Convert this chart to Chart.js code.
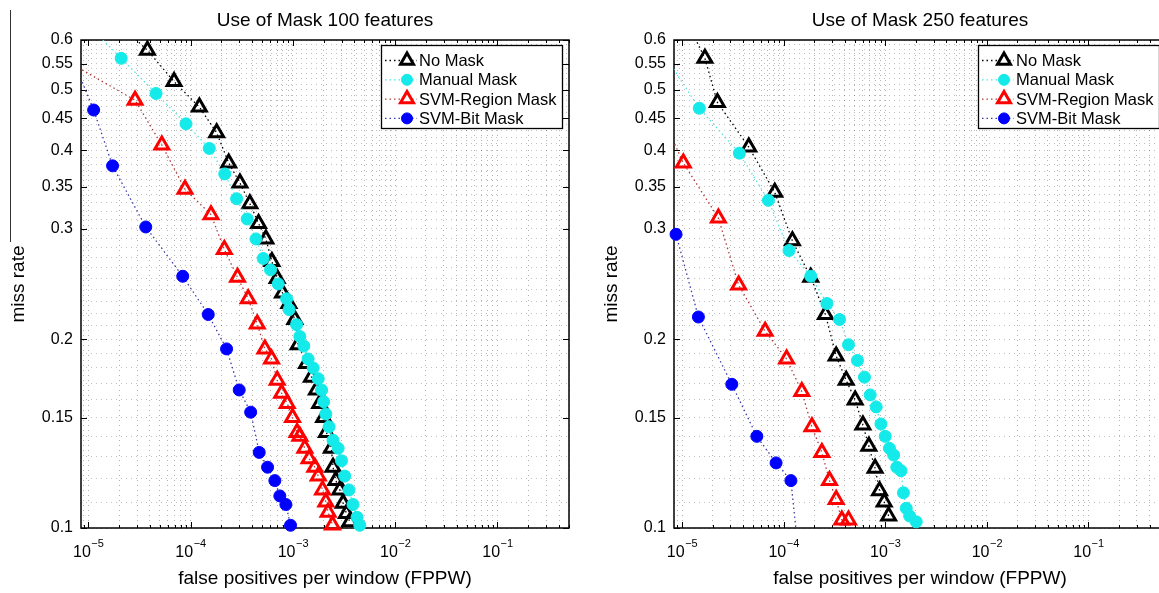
<!DOCTYPE html>
<html>
<head>
<meta charset="utf-8">
<script src="https://cdn.jsdelivr.net/npm/chart.js@4.4.1/dist/chart.umd.min.js"></script>
<style>
  html, body { margin: 0; padding: 0; background: #fff; overflow: hidden; }
  #wrap { position: relative; width: 1159px; height: 593px; overflow: hidden; }
  .pane { position: absolute; top: 0; height: 593px; }
</style>
</head>
<body>
<div id="wrap">
  <div class="pane" style="left:0;width:580px"><canvas id="c100"></canvas></div>
  <div class="pane" style="left:593px;width:590px"><canvas id="c250"></canvas></div>
</div>
<script>
// ---- values: fppw (x) and miss rate (y) ----
// a few points sit just outside the axes; only their line segment shows
const seriesNames = ["No Mask", "Manual Mask", "SVM-Region Mask", "SVM-Bit Mask"];

const noMask100Fppw = [2.32e-5, 3.79e-5, 6.9e-5, 1.22e-4, 1.80e-4, 2.36e-4, 3.04e-4, 3.80e-4, 4.62e-4, 5.45e-4, 6.24e-4, 7.03e-4, 7.93e-4, 9.14e-4, 1.046e-3, 1.127e-3, 1.362e-3, 1.52e-3, 1.70e-3, 1.83e-3, 2.00e-3, 2.13e-3, 2.38e-3, 2.47e-3, 2.63e-3, 2.88e-3, 3.10e-3, 3.34e-3, 3.60e-3];
const noMask100Miss = [0.622, 0.578, 0.515, 0.469, 0.427, 0.382, 0.355, 0.329, 0.306, 0.289, 0.266, 0.250, 0.237, 0.228, 0.215, 0.196, 0.183, 0.174, 0.166, 0.158, 0.150, 0.142, 0.134, 0.125, 0.119, 0.115, 0.1095, 0.1055, 0.1023];
const manual100Fppw = [1.12e-5, 2.10e-5, 4.60e-5, 9.03e-5, 1.525e-4, 2.16e-4, 2.82e-4, 3.58e-4, 4.36e-4, 5.13e-4, 6.05e-4, 7.19e-4, 8.69e-4, 9.20e-4, 1.087e-3, 1.17e-3, 1.28e-3, 1.41e-3, 1.58e-3, 1.77e-3, 1.91e-3, 2.00e-3, 2.10e-3, 2.26e-3, 2.47e-3, 2.77e-3, 2.99e-3, 3.21e-3, 3.54e-3, 3.87e-3, 4.24e-3, 4.51e-3];
const manual100Miss = [0.622, 0.561, 0.493, 0.441, 0.403, 0.367, 0.335, 0.311, 0.289, 0.269, 0.258, 0.245, 0.232, 0.223, 0.211, 0.202, 0.195, 0.186, 0.180, 0.173, 0.166, 0.159, 0.152, 0.145, 0.138, 0.134, 0.128, 0.121, 0.115, 0.109, 0.104, 0.101];
const region100Fppw = [6.7e-6, 2.87e-5, 5.24e-5, 8.83e-5, 1.585e-4, 2.14e-4, 2.88e-4, 3.66e-4, 4.49e-4, 5.33e-4, 6.19e-4, 7.03e-4, 7.77e-4, 8.81e-4, 9.93e-4, 1.10e-3, 1.17e-3, 1.31e-3, 1.44e-3, 1.64e-3, 1.77e-3, 1.95e-3, 2.10e-3, 2.21e-3, 2.44e-3];
const region100Miss = [0.551, 0.481, 0.408, 0.347, 0.316, 0.278, 0.251, 0.232, 0.2115, 0.193, 0.186, 0.172, 0.164, 0.158, 0.150, 0.142, 0.140, 0.134, 0.129, 0.125, 0.121, 0.115, 0.110, 0.106, 0.1011];
const bit100Fppw = [6.7e-6, 1.13e-5, 1.73e-5, 3.65e-5, 8.39e-5, 1.49e-4, 2.25e-4, 2.99e-4, 3.87e-4, 4.69e-4, 5.66e-4, 6.67e-4, 7.46e-4, 8.55e-4, 9.49e-4];
const bit100Miss = [0.572, 0.464, 0.378, 0.302, 0.252, 0.219, 0.193, 0.166, 0.153, 0.132, 0.125, 0.119, 0.1125, 0.109, 0.101];

const noMask250Fppw = [1.23e-5, 1.68e-5, 2.23e-5, 4.54e-5, 8.18e-5, 1.22e-4, 1.85e-4, 2.58e-4, 3.29e-4, 4.13e-4, 5.06e-4, 6.03e-4, 6.90e-4, 7.95e-4, 8.79e-4, 9.77e-4, 1.08e-3];
const noMask250Miss = [0.622, 0.561, 0.477, 0.405, 0.343, 0.287, 0.251, 0.219, 0.188, 0.172, 0.160, 0.146, 0.135, 0.1245, 0.1147, 0.110, 0.1045];
const manual250Fppw = [7.8e-6, 1.48e-5, 3.67e-5, 7.08e-5, 1.13e-4, 1.85e-4, 2.67e-4, 3.55e-4, 4.35e-4, 5.33e-4, 6.25e-4, 7.11e-4, 8.15e-4, 9.08e-4, 1.0e-3, 1.10e-3, 1.21e-3, 1.30e-3, 1.43e-3, 1.51e-3, 1.61e-3, 1.74e-3, 2.02e-3];
const manual250Miss = [0.547, 0.467, 0.396, 0.333, 0.277, 0.252, 0.228, 0.215, 0.196, 0.185, 0.174, 0.163, 0.156, 0.1465, 0.140, 0.134, 0.1307, 0.125, 0.1234, 0.1138, 0.1075, 0.1045, 0.1023];
const region250Fppw = [7.8e-6, 1.03e-5, 2.28e-5, 3.61e-5, 6.58e-5, 1.07e-4, 1.51e-4, 1.90e-4, 2.38e-4, 2.83e-4, 3.29e-4, 3.74e-4, 4.35e-4];
const region250Miss = [0.422, 0.382, 0.312, 0.244, 0.206, 0.186, 0.165, 0.145, 0.132, 0.119, 0.111, 0.103, 0.103];
const bit250Fppw = [8.73e-6, 1.45e-5, 3.09e-5, 5.45e-5, 8.43e-5, 1.18e-4, 1.34e-4];
const bit250Miss = [0.294, 0.217, 0.1695, 0.140, 0.127, 0.119, 0.0975];

const yTickValues = [0.1, 0.15, 0.2, 0.3, 0.35, 0.4, 0.45, 0.5, 0.55, 0.6];
const xDecades = [-5, -4, -3, -2, -1];

// ---- style ----
const FONT = "'Liberation Sans', Arial, Helvetica, sans-serif";
const markerColors = ["#000000", "#14eaea", "#ff0000", "#0000ff"];
const lineColors = ["#000000", "#4ee6e6", "#b03a3a", "#3a3aa8"];
const markerStyles = ["triangle", "circle", "triangle", "circle"];
const markerRadius = [8, 6, 8, 6];
const markerBorder = [3, 1, 3, 1];
const markerFill = ["rgba(0,0,0,0)", "#14eaea", "rgba(0,0,0,0)", "#0000ff"];
const Y_MIN = 0.1, Y_MAX = 0.6;

function pts(xs, ys) { return xs.map((x, i) => ({ x: x, y: ys[i] })); }

function xGrid(min, max) {
  const out = [];
  for (let k = -7; k <= 0; k++) {
    for (let m = 1; m <= 9; m++) {
      const v = m * Math.pow(10, k);
      if (v >= min * 0.999 && v <= max * 1.001) out.push(v);
    }
  }
  return out;
}
function yGrid() {
  const out = [];
  for (let i = 10; i <= 60; i++) out.push(i / 100);
  return out;
}
const isDecade = v => Math.abs(Math.log10(v) - Math.round(Math.log10(v))) < 1e-6;

const frame = {
  id: "frame",
  beforeDatasetsDraw(chart, args, o) {
    const { ctx, chartArea: a, scales: { x, y } } = chart;
    ctx.save();
    ctx.strokeStyle = "#000";
    ctx.lineWidth = 1;
    ctx.beginPath();
    xGrid(x.min, x.max).forEach(v => {
      const px = Math.round(x.getPixelForValue(v)) + 0.5;
      const len = isDecade(v) ? 6 : 3;
      ctx.moveTo(px, a.bottom); ctx.lineTo(px, a.bottom - len);
      ctx.moveTo(px, a.top); ctx.lineTo(px, a.top + len);
    });
    yTickValues.forEach(v => {
      const py = Math.round(y.getPixelForValue(v)) + 0.5;
      ctx.moveTo(a.left, py); ctx.lineTo(a.left + 6, py);
      ctx.moveTo(a.right, py); ctx.lineTo(a.right - 6, py);
    });
    ctx.stroke();
    ctx.lineWidth = 1.5;
    ctx.strokeRect(a.left, a.top, a.right - a.left, a.bottom - a.top);
    ctx.restore();
  },
  afterDraw(chart, args, o) {
    const { ctx, chartArea: a, scales: { x } } = chart;
    const cx = (a.left + a.right) / 2;
    ctx.save();
    ctx.fillStyle = "#000";
    ctx.textAlign = "center";
    ctx.textBaseline = "middle";

    ctx.font = "19px " + FONT;
    ctx.fillText(o.title, cx, 21);
    ctx.fillText("false positives per window (FPPW)", cx, 579);
    ctx.save();
    ctx.translate(19, (a.top + a.bottom) / 2);
    ctx.rotate(-Math.PI / 2);
    ctx.fillText("miss rate", 0, 0);
    ctx.restore();

    // decade labels with superscript exponent
    ctx.textAlign = "left";
    ctx.textBaseline = "alphabetic";
    xDecades.forEach(k => {
      const px = x.getPixelForValue(Math.pow(10, k));
      ctx.font = "16px " + FONT;
      const w1 = ctx.measureText("10").width;
      const exp = "\u2212" + Math.abs(k);
      ctx.font = "11px " + FONT;
      const w2 = ctx.measureText(exp).width;
      const left = px - (w1 + w2) / 2;
      ctx.font = "16px " + FONT;
      ctx.fillText("10", left, 557);
      ctx.font = "11px " + FONT;
      ctx.fillText(exp, left + w1 + 0.5, 547);
    });

    // legend box
    const lx = a.right - o.legendRight - 181, ly = a.top + 5;
    ctx.fillStyle = "#fff";
    ctx.fillRect(lx, ly, 181, 83);
    ctx.strokeStyle = "#000";
    ctx.lineWidth = 1.3;
    ctx.strokeRect(lx + 0.5, ly + 0.5, 181, 83);
    ctx.font = "16.5px " + FONT;
    ctx.textBaseline = "middle";
    seriesNames.forEach((name, i) => {
      const cy = ly + 15.5 + i * 19.3;
      ctx.setLineDash([1.5, 3]);
      ctx.lineWidth = 1.3;
      ctx.strokeStyle = lineColors[i];
      ctx.beginPath();
      ctx.moveTo(lx + 4, cy); ctx.lineTo(lx + 36, cy);
      ctx.stroke();
      ctx.setLineDash([]);
      ctx.fillStyle = markerStyles[i] === "triangle" ? "#fff" : markerFill[i];
      ctx.strokeStyle = markerColors[i];
      ctx.lineWidth = markerBorder[i];
      Chart.helpers.drawPoint(ctx, { pointStyle: markerStyles[i], radius: markerRadius[i] - 0.5, borderWidth: markerBorder[i], rotation: 0 }, lx + 26, cy);
      ctx.fillStyle = "#000";
      ctx.fillText(name, lx + 38, cy + 1);
    });

    if (o.stray) {
      ctx.strokeStyle = "#333";
      ctx.lineWidth = 1;
      ctx.beginPath();
      ctx.moveTo(10.5, 10); ctx.lineTo(10.5, 242);
      ctx.stroke();
    }
    ctx.restore();
  }
};

function makeChart(id, series, xMin, xMax, padRight, title, legendRight, stray) {
  const datasets = series.map((s, i) => ({
    label: seriesNames[i],
    data: pts(s[0], s[1]),
    showLine: true,
    borderColor: lineColors[i],
    borderWidth: 1.3,
    borderDash: [1.5, 3],
    pointStyle: markerStyles[i],
    pointRadius: c => {
      const p = c.raw;
      return p && (p.x < xMin || p.y > Y_MAX || p.y < Y_MIN) ? 0 : markerRadius[i];
    },
    pointBorderWidth: markerBorder[i],
    pointBorderColor: markerColors[i],
    pointBackgroundColor: markerFill[i],
    order: 3 - i,
    clip: s[2] || { left: 0, top: 0, right: 0, bottom: 8 }
  }));

  return new Chart(document.getElementById(id), {
    type: "scatter",
    data: { datasets },
    plugins: [frame],
    options: {
      responsive: true,
      maintainAspectRatio: false,
      animation: false,
      events: [],
      layout: { padding: { top: 40, right: padRight, left: 0, bottom: 0 } },
      plugins: {
        legend: { display: false },
        tooltip: { enabled: false },
        frame: { title: title, legendRight: legendRight, stray: stray }
      },
      scales: {
        x: {
          type: "logarithmic",
          min: xMin,
          max: xMax,
          afterBuildTicks: s => { s.ticks = xGrid(xMin, xMax).map(v => ({ value: v })); },
          afterFit: s => { s.height = 65; },
          ticks: { display: false, autoSkip: false },
          grid: { color: "rgba(0,0,0,0.3)", lineWidth: 1, drawTicks: false },
          border: { display: false, dash: [1, 4] }
        },
        y: {
          type: "logarithmic",
          min: Y_MIN,
          max: Y_MAX,
          afterBuildTicks: s => { s.ticks = yGrid().map(v => ({ value: v })); },
          afterFit: s => { s.width = 81; },
          ticks: {
            autoSkip: false,
            padding: 8,
            color: "#000",
            font: { family: FONT, size: 16 },
            callback: v => yTickValues.some(t => Math.abs(t - v) < 1e-6) ? String(Math.round(v * 100) / 100) : ""
          },
          grid: { color: "rgba(0,0,0,0.25)", lineWidth: 1, drawTicks: false },
          border: { display: false, dash: [1, 4] }
        }
      }
    }
  });
}

makeChart("c100", [
  [noMask100Fppw, noMask100Miss],
  [manual100Fppw, manual100Miss],
  [region100Fppw, region100Miss],
  [bit100Fppw, bit100Miss]
], 8.5e-6, 0.5, 10, "Use of Mask 100 features", 7, true);

makeChart("c250", [
  [noMask250Fppw, noMask250Miss],
  [manual250Fppw, manual250Miss],
  [region250Fppw, region250Miss],
  [bit250Fppw, bit250Miss, { left: 8, top: 0, right: 0, bottom: 0 }]
], 8.34e-6, 0.58, 17, "Use of Mask 250 features", 7, false);
</script>
</body>
</html>
